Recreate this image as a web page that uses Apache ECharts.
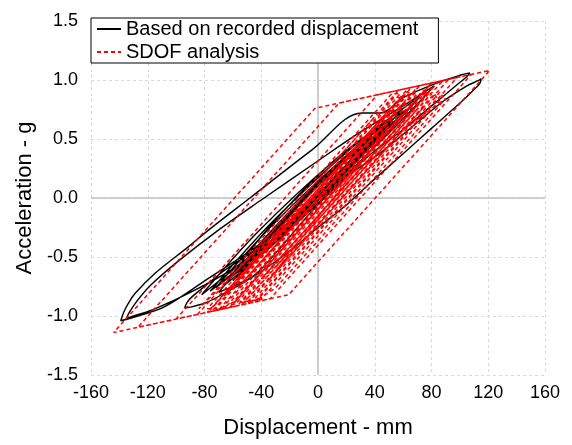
<!DOCTYPE html>
<html>
<head>
<meta charset="utf-8">
<script src="https://cdn.jsdelivr.net/npm/echarts@6/dist/echarts.min.js"></script>
<style>
  html, body { margin: 0; padding: 0; background: #fff; }
  #chart { width: 572px; height: 445px; }
</style>
</head>
<body>
<div id="chart"></div>
<script>
// axis ticks
const dispTicks = [-160, -120, -80, -40, 0, 40, 80, 120, 160]
const accTicks = [-1.5, -1.0, -0.5, 0.0, 0.5, 1.0, 1.5]

// black: based on recorded displacement (mm, g)
const recordedDisp = [
  0, 7.5, 17.5, 25, 8.5, -13.5, -30, -10.5, 15.5, 35, 11, -21, -45, -17.1, 20.1, 48,
  15, -29, -62, -26.9, 19.9, 55, 16.9, -33.9, -72, -31.8, 21.8, 62, 18.8, -38.8, -82,
  -41.8, 11.8, 52, 13.6, -37.6, -76, -31.6, 27.6, 72, 30.6, -24.6, -66, -34.2, 8.2, 40,
  11.2, -27.2, -56, -21.2, 25.2, 60,
  40, 20, 0, -30, -60, -90, -115, -130, -135,
  -133, -128, -118, -100, -70, -38, -3, 30, 60, 78, 82,
  75, 50, 20, 0, -20, -46.7, -79.6, -108, -127, -139,
  -137, -134, -129, -115, -91, -77, -48, -4, 31, 44, 60, 85, 100, 107,
  105, 98, 79, 60, 37, 15, -5, -25, -44.4, -67.9, -79.6, -90, -94,
  -92, -89, -80, -65.5, -44.4, -20, 10, 43.7, 70, 88.3, 105, 112, 115,
  114, 110, 102.4, 80, 60, 36.6, 20, 0, -20, -45, -70,
  -34, 14, 50, 17, -27, -60, -30.6, 8.6, 38, 14, -18, -42, -23.4, 1.4, 20, 8, -5, -15
]
const recordedAcc = [
  0, 0.126, 0.254, 0.32, 0.094, -0.154, -0.3, -0.025, 0.275, 0.45, 0.115, -0.265, -0.5, -0.11, 0.33, 0.6,
  0.166, -0.346, -0.68, -0.208, 0.328, 0.66, 0.184, -0.384, -0.76, -0.227, 0.377, 0.75, 0.229, -0.399, -0.82,
  -0.28, 0.32, 0.68, 0.179, -0.409, -0.79, -0.195, 0.465, 0.86, 0.32, -0.32, -0.74, -0.244, 0.284, 0.58,
  0.158, -0.338, -0.66, -0.154, 0.414, 0.76,
  0.5, 0.24, 0.0, -0.33, -0.6, -0.8, -0.94, -1.0, -1.02,
  -0.97, -0.88, -0.74, -0.55, -0.27, 0, 0.29, 0.56, 0.78, 0.92, 0.95,
  0.86, 0.55, 0.2, -0.02, -0.2, -0.44, -0.7, -0.92, -1.0, -1.04,
  -0.97, -0.9, -0.81, -0.64, -0.41, -0.27, 0, 0.41, 0.72, 0.72, 0.85, 0.98, 1.04, 1.06,
  1.03, 0.96, 0.77, 0.58, 0.37, 0.12, -0.12, -0.4, -0.65, -0.82, -0.89, -0.925, -0.93,
  -0.88, -0.84, -0.75, -0.61, -0.44, -0.2, 0.1, 0.38, 0.64, 0.82, 0.95, 0.99, 1.01,
  0.97, 0.92, 0.83, 0.59, 0.375, 0.125, -0.06, -0.25, -0.45, -0.66, -0.8,
  -0.292, 0.292, 0.66, 0.202, -0.342, -0.7, -0.274, 0.214, 0.52, 0.174, -0.234, -0.5, -0.245, 0.055, 0.25, 0.1, -0.05, -0.15
]

// red dashed: SDOF analysis (mm, g)
const sdofDisp = [
  0, 30, -25, 45, -40, 60, -55, 70.9, 88, -30, 70, -53.9, -62, 75, -45, 60, -58, 79.8, 98,
  -43.9, -127, 14.8, 121, -20.8, -144, -2.2, 108, -33.8, -100, 41.9, 85, -40, 70, -56.9, -78,
  50, -60, 63.8, 92, -30, 75, -49.8, -70, 60, -50, 71.8, 80, -45, 65, -61.8, -85, 40, -60,
  56.9, 66, -50, 60, -66, 50, -35, 30, -15, 10,
  -84, 52, 58, -78, -72, 64, 70, -64, -58, 76, 80, -52, -46, 86, 88, -40,
  -55, 80, 74, -60, -68, 68, 62, -76,
  54, 60, -74, -62, 72, 78, -54, -50, 82, 84, -44, -30, 90, 60, -35, 50, -40
]
const sdofAcc = [
  0, 0.40, -0.335, 0.603, -0.536, 0.804, -0.737, 0.950, 0.995, -0.586, 0.754, -0.906, -0.927, 0.909, -0.699, 0.707, -0.874, 0.973, 1.021,
  -0.880, -1.096, 0.804, 1.081, -0.820, -1.140, 0.760, 1.047, -0.854, -1.026, 0.875, 0.987, -0.687, 0.787, -0.914, -0.969,
  0.746, -0.728, 0.932, 1.005, -0.630, 0.777, -0.895, -0.948, 0.795, -0.679, 0.953, 0.974, -0.701, 0.773, -0.926, -0.987, 0.687, -0.653,
  0.914, 0.938, -0.616, 0.858, -0.831, 0.724, -0.415, 0.456, -0.147, 0.188,
  -0.938, 0.884, 0.884, -0.938, -0.938, 0.884, 0.884, -0.911, -0.898, 0.898, 0.884, -0.884, -0.871, 0.898, 0.858, -0.858,
  -0.884, 0.925, 0.911, -0.884, -0.938, 0.884, 0.898, -0.951,
  0.858, 0.844, -0.951, -0.925, 0.871, 0.884, -0.884, -0.884, 0.884, 0.844, -0.871, -0.764, 0.844, 0.576, -0.70, 0.603, -0.603
]

const font = 'Liberation Sans'
let chart = echarts.init(document.getElementById('chart'), null, { renderer: 'canvas' })

let option = {
  animation: false,
  backgroundColor: '#fff',
  grid: { left: 91, right: 27, top: 21, bottom: 70 },
  legend: {
    orient: 'vertical',
    left: 91,
    top: 18,
    padding: [1, 20, 1, 5],
    itemGap: 3,
    itemWidth: 24,
    itemHeight: 20,
    borderColor: '#000',
    borderWidth: 1,
    borderRadius: 0,
    backgroundColor: '#fff',
    itemStyle: { opacity: 0 },
    textStyle: { fontFamily: font, fontSize: 20, color: '#000' },
    data: ['Based on recorded displacement', 'SDOF analysis']
  },
  xAxis: {
    type: 'value',
    min: dispTicks[0],
    max: dispTicks[dispTicks.length - 1],
    interval: dispTicks[1] - dispTicks[0],
    name: 'Displacement - mm',
    nameLocation: 'middle',
    nameGap: 42,
    nameTextStyle: { fontFamily: font, fontSize: 22, color: '#000' },
    axisLine: { show: false },
    axisTick: { show: false },
    axisLabel: { fontFamily: font, fontSize: 18, color: '#000', margin: 9 },
    splitLine: { show: true, lineStyle: { color: '#d9d9d9', type: [3, 3], width: 1 } }
  },
  yAxis: {
    type: 'value',
    min: accTicks[0],
    max: accTicks[accTicks.length - 1],
    interval: 0.5,
    name: 'Acceleration - g',
    nameLocation: 'middle',
    nameGap: 55,
    nameTextStyle: { fontFamily: font, fontSize: 22, color: '#000' },
    axisLine: { show: false },
    axisTick: { show: false },
    axisLabel: {
      fontFamily: font, fontSize: 18, color: '#000', margin: 13,
      formatter: v => v.toFixed(1)
    },
    splitLine: { show: true, lineStyle: { color: '#d9d9d9', type: [3, 3], width: 1 } }
  },
  series: [
    {
      name: 'Based on recorded displacement',
      type: 'line',
      symbol: 'none',
      smooth: 0.35,
      data: recordedDisp.map((d, i) => [d, recordedAcc[i]]),
      lineStyle: { color: '#000', width: 1.4 },
      itemStyle: { color: '#000' },
      z: 3,
      markLine: {
        silent: true,
        symbol: 'none',
        z: 1,
        label: { show: false },
        lineStyle: { color: '#c0c0c0', type: 'solid', width: 1.5 },
        data: [{ xAxis: 0 }, { yAxis: 0 }]
      }
    },
    {
      name: 'SDOF analysis',
      type: 'line',
      symbol: 'none',
      data: sdofDisp.map((d, i) => [d, sdofAcc[i]]),
      lineStyle: { color: '#ff0000', width: 1.5, type: [4, 3] },
      itemStyle: { color: '#ff0000' },
      z: 4
    }
  ]
}
chart.setOption(option)
</script>
</body>
</html>
